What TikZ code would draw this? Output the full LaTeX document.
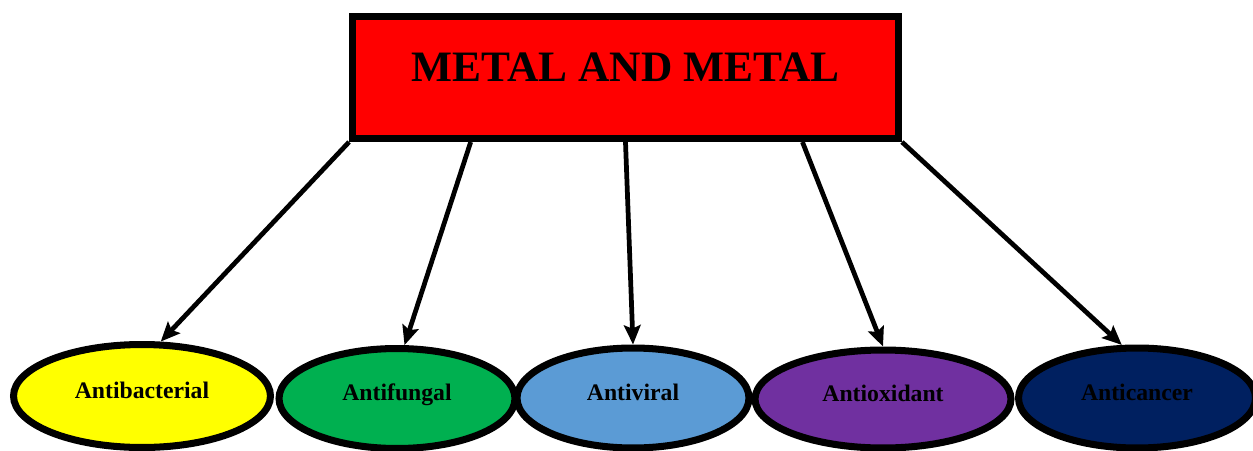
\documentclass[tikz,border=0pt]{standalone}
\usepackage{fontspec}
\setmainfont{Liberation Serif}
\usetikzlibrary{arrows.meta, calc, shapes.geometric}
\definecolor{boxred}{HTML}{FF0000}
\definecolor{bactyellow}{HTML}{FFFF00}
\definecolor{fungalgreen}{HTML}{00B050}
\definecolor{viralblue}{HTML}{5B9BD5}
\definecolor{oxidpurple}{HTML}{7030A0}
\definecolor{cancernavy}{HTML}{002060}

\begin{document}
\begin{tikzpicture}[x=0.02cm, y=-0.02cm,
    >={Stealth[length=11pt, width=9.5pt, inset=2pt]},
    effect/.style={ellipse, draw, line width=4pt, text height=9.3pt, text depth=6.5pt,
      font=\fontsize{13.5}{16}\selectfont\bfseries, inner sep=0pt},
    link/.style={->, line width=2.7pt}]
  \useasboundingbox (0,0) rectangle (1253,450);
  % Top box
  \node[draw, line width=4pt, fill=boxred, minimum width=10.92cm, minimum height=2.44cm,
    text height=16.4pt, text depth=11.3pt, inner sep=0pt,
    font=\fontsize{24.7}{28}\selectfont\bfseries] (metal) at (625.5,77.5) {METAL AND METAL};
  % Ellipses
  \node[effect, fill=bactyellow, minimum width=5.14cm, minimum height=2.06cm] (bact) at (142,396) {Antibacterial};
  \node[effect, fill=fungalgreen, minimum width=4.72cm, minimum height=2.0cm] (fungal) at (397,398.5) {Antifungal};
  \node[effect, fill=viralblue, minimum width=4.64cm, minimum height=2.0cm] (viral) at (633,398) {Antiviral};
  \node[effect, fill=oxidpurple, minimum width=5.12cm, minimum height=1.96cm] (oxid) at (883,399) {Antioxidant};
  \node[effect, fill=cancernavy, minimum width=4.74cm, minimum height=2.0cm] (cancer) at (1137,398) {Anticancer};
  % Arrows
  \path[link] (metal.south west) edge (bact.71);
  \path[link] ($(metal.south west)!0.22!(metal.south east)$) edge (fungal.82);
  \path[link] (metal.south) edge (viral.north);
  \path[link] ($(metal.south west)!0.82!(metal.south east)$) edge (oxid.north);
  \path[link] (metal.south east) edge (cancer.106);
\end{tikzpicture}
\end{document}
